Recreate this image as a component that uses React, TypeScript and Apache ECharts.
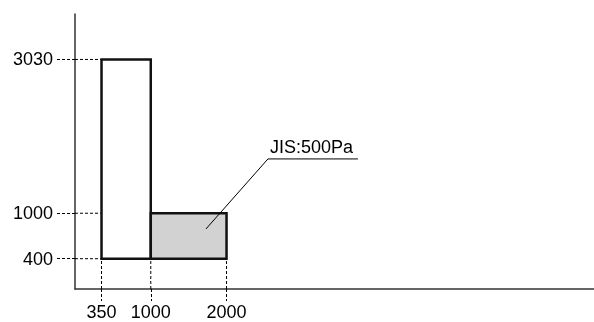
import React, { useEffect, useRef } from "react";
import * as echarts from "echarts";

// [x0, x1, y0, y1]
const boxes: number[][] = [
  [350, 1000, 400, 3030],
  [1000, 2000, 400, 1000],
];
const boxFills = ["#ffffff", "#d2d2d2"];
const xTicks = [350, 1000, 2000];
const yTicks = [400, 1000, 3030];
// horizontal guides: [y, xEnd]
const yGuides: number[][] = [
  [3030, 350],
  [1000, 1000],
  [400, 350],
];
// vertical guides: [x, yStart]
const xGuides: number[][] = [
  [350, 400],
  [1000, 400],
  [2000, 400],
];
const leader: number[][] = [
  [1729, 793],
  [2547, 1717],
  [3735, 1717],
];
const leaderText = "JIS:500Pa";

const FONT = "'Liberation Sans', Arial, sans-serif";

export default function App() {
  const ref = useRef<HTMLDivElement>(null);
  useEffect(() => {
    if (!ref.current) return;
    const chart = echarts.init(ref.current, null, { renderer: "svg" });
    chart.setOption({
      animation: false,
      grid: { left: 75, top: 14, right: 0, bottom: 33, containLabel: false, outerBoundsMode: "none" },
      xAxis: {
        type: "value",
        min: 0,
        max: 6850,
        splitLine: { show: false },
        axisLine: { show: true, lineStyle: { color: "#333", width: 1.5 } },
        axisTick: {
          show: true,
          customValues: xTicks,
          length: 12,
          lineStyle: { color: "#000", width: 1, type: [3, 2] },
        },
        axisLabel: {
          customValues: xTicks,
          formatter: (v: number) => String(v),
          margin: 16,
          color: "#000",
          fontSize: 18,
          lineHeight: 14,
          fontFamily: FONT,
        },
      },
      yAxis: {
        type: "value",
        min: 0,
        max: 3630,
        splitLine: { show: false },
        axisLine: { show: true, lineStyle: { color: "#333", width: 1.5 } },
        axisTick: {
          show: true,
          customValues: yTicks,
          length: 20,
          lineStyle: { color: "#000", width: 1, type: [3, 2] },
        },
        axisLabel: {
          customValues: yTicks,
          formatter: (v: number) => String(v),
          margin: 22,
          color: "#000",
          fontSize: 18,
          fontFamily: FONT,
        },
      },
      series: [
        {
          type: "custom",
          clip: false,
          data: yGuides,
          renderItem: (params: any, api: any) => {
            const y = api.value(0);
            const xe = api.value(1);
            const p0 = api.coord([0, y]);
            const p1 = api.coord([xe, y]);
            return {
              type: "line",
              shape: { x1: p0[0], y1: p0[1], x2: p1[0], y2: p1[1] },
              style: { stroke: "#000", lineWidth: 1, lineDash: [3, 2] },
            };
          },
          z: 1,
        },
        {
          type: "custom",
          clip: false,
          data: xGuides,
          renderItem: (params: any, api: any) => {
            const x = api.value(0);
            const ys = api.value(1);
            const p0 = api.coord([x, 0]);
            const p1 = api.coord([x, ys]);
            return {
              type: "line",
              shape: { x1: p0[0], y1: p0[1], x2: p1[0], y2: p1[1] },
              style: { stroke: "#000", lineWidth: 1, lineDash: [3, 2] },
            };
          },
          z: 1,
        },
        {
          type: "custom",
          data: boxes.map((b, i) => [...b, i]),
          renderItem: (params: any, api: any) => {
            const p0 = api.coord([api.value(0), api.value(3)]);
            const p1 = api.coord([api.value(1), api.value(2)]);
            return {
              type: "rect",
              shape: { x: p0[0], y: p0[1], width: p1[0] - p0[0], height: p1[1] - p0[1] },
              style: { fill: boxFills[api.value(4)], stroke: "#111", lineWidth: 2.5 },
            };
          },
          z: 2,
        },
        {
          type: "line",
          data: leader,
          symbol: "none",
          lineStyle: { color: "#000", width: 1 },
          z: 3,
        },
        {
          type: "custom",
          data: [leader[1]],
          renderItem: (params: any, api: any) => {
            const p = api.coord([api.value(0), api.value(1)]);
            return {
              type: "text",
              x: p[0] + 2,
              y: p[1] - 3,
              style: {
                text: leaderText,
                fill: "#000",
                fontSize: 18,
                fontFamily: FONT,
                textAlign: "left",
                textVerticalAlign: "bottom",
              },
            };
          },
          z: 3,
        },
      ],
    });
    return () => chart.dispose();
  }, []);
  return (
    <div
      ref={ref}
      style={{ position: "fixed", left: 0, top: 0, width: 594, height: 322 }}
    />
  );
}
